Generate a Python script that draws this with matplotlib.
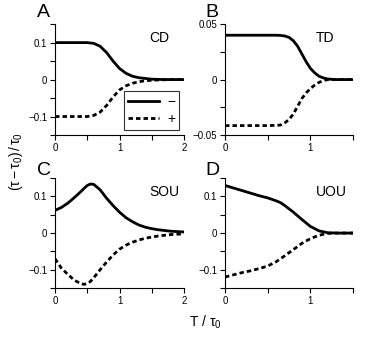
import matplotlib
matplotlib.use("Agg")
import matplotlib.pyplot as plt
from matplotlib.ticker import MultipleLocator

plt.rcParams.update({
    "font.family": ["Liberation Sans", "DejaVu Sans"],
    "mathtext.fontset": "custom",
    "mathtext.rm": "Liberation Sans",
    "mathtext.it": "Liberation Sans",
    "axes.spines.top": False,
    "axes.spines.right": False,
})

# CD
t_cd = [0, 0.1, 0.2, 0.3, 0.4, 0.5, 0.6, 0.7, 0.8, 0.9, 1.0, 1.1, 1.2, 1.3,
        1.4, 1.5, 1.6, 1.7, 1.8, 1.9, 2.0]
cd_minus = [0.1, 0.1, 0.1, 0.1, 0.1, 0.1, 0.098, 0.09, 0.073, 0.05, 0.03,
            0.017, 0.009, 0.005, 0.003, 0.001, 0.0005, 0, 0, 0, 0]
cd_plus = [-0.1, -0.1, -0.1, -0.1, -0.1, -0.1, -0.097, -0.088, -0.07, -0.047,
           -0.028, -0.017, -0.01, -0.006, -0.003, -0.002, -0.001, -0.0005, 0, 0, 0]

# TD
t_td = [0, 0.1, 0.2, 0.3, 0.4, 0.5, 0.6, 0.65, 0.7, 0.75, 0.8, 0.85, 0.9, 0.95,
        1.0, 1.05, 1.1, 1.15, 1.2, 1.3, 1.4, 1.5]
td_minus = [0.04, 0.04, 0.04, 0.04, 0.04, 0.04, 0.04, 0.0398, 0.0393, 0.038,
            0.035, 0.03, 0.023, 0.016, 0.010, 0.006, 0.003, 0.0015, 0.0005, 0, 0, 0]
td_plus = [-0.0415, -0.0415, -0.0415, -0.0415, -0.0415, -0.0415, -0.0413, -0.041,
           -0.039, -0.036, -0.031, -0.024, -0.017, -0.012, -0.008, -0.005, -0.0025,
           -0.001, 0, 0, 0, 0]

# SOU
t_sou = [0, 0.1, 0.2, 0.3, 0.4, 0.45, 0.5, 0.55, 0.6, 0.7, 0.8, 0.9, 1.0, 1.1,
         1.2, 1.3, 1.4, 1.5, 1.6, 1.7, 1.8, 1.9, 2.0]
sou_minus = [0.062, 0.07, 0.082, 0.097, 0.113, 0.122, 0.13, 0.134, 0.133, 0.118,
             0.095, 0.075, 0.057, 0.042, 0.031, 0.022, 0.016, 0.012, 0.009, 0.007,
             0.005, 0.004, 0.003]
sou_plus = [-0.07, -0.096, -0.113, -0.129, -0.138, -0.14, -0.138, -0.132, -0.122,
            -0.1, -0.079, -0.06, -0.044, -0.033, -0.025, -0.019, -0.014, -0.011,
            -0.008, -0.006, -0.004, -0.003, -0.002]

# UOU
t_uou = [0, 0.1, 0.2, 0.3, 0.4, 0.5, 0.6, 0.65, 0.7, 0.8, 0.9, 1.0, 1.1, 1.2,
         1.3, 1.4, 1.5]
uou_minus = [0.13, 0.123, 0.116, 0.109, 0.102, 0.096, 0.088, 0.083, 0.075, 0.057,
             0.037, 0.018, 0.006, 0.001, 0, 0, 0]
uou_plus = [-0.12, -0.114, -0.108, -0.103, -0.097, -0.09, -0.078, -0.07, -0.062,
            -0.045, -0.028, -0.015, -0.006, -0.001, 0, 0, 0]

panels = [
    ("A", "CD", t_cd, cd_minus, cd_plus, 2.0, 0.15, 0.05, [0, 1, 2], [-0.1, 0, 0.1], ["\u22120.1", "0", "0.1"], 1.62, 0.113),
    ("B", "TD", t_td, td_minus, td_plus, 1.5, 0.05, 0.025, [0, 1], [-0.05, 0, 0.05], ["\u22120.05", "0", "0.05"], 1.17, 0.0375),
    ("C", "SOU", t_sou, sou_minus, sou_plus, 2.0, 0.15, 0.05, [0, 1, 2], [-0.1, 0, 0.1], ["\u22120.1", "0", "0.1"], 1.7, 0.111),
    ("D", "UOU", t_uou, uou_minus, uou_plus, 1.5, 0.15, 0.05, [0, 1], [-0.1, 0, 0.1], ["\u22120.1", "0", "0.1"], 1.24, 0.111),
]

positions = [
    [0.1407, 0.5994, 0.330, 0.329],
    [0.5754, 0.5994, 0.328, 0.329],
    [0.1407, 0.1454, 0.330, 0.326],
    [0.5754, 0.1454, 0.328, 0.326],
]
# panel letter anchors (left, baseline) in figure fraction
letter_pos = [(0.094, 0.950), (0.524, 0.950), (0.094, 0.481), (0.524, 0.481)]

fig = plt.figure(figsize=(3.91, 3.37), dpi=100)

for pos, lp, (letter, name, t, ym, yp, xmax, ylim, ystep, xt, yt, ytl, tx, ty) in zip(positions, letter_pos, panels):
    ax = fig.add_axes(pos)
    ax.plot(t, ym, color="black", linewidth=2.0, label="\u2212")
    ax.plot(t, yp, color="black", linewidth=2.0, linestyle=(0, (1.6, 1.1)), label="+")
    ax.set_xlim(0, xmax)
    ax.set_ylim(-ylim, ylim)
    ax.xaxis.set_minor_locator(MultipleLocator(0.5))
    ax.yaxis.set_minor_locator(MultipleLocator(ystep))
    ax.set_xticks(xt)
    ax.set_yticks(yt)
    ax.set_yticklabels(ytl)
    ax.tick_params(which="both", direction="out", length=3.5, width=0.8, labelsize=7, pad=2)
    for s in ("left", "bottom"):
        ax.spines[s].set_linewidth(0.8)
    ax.text(tx, ty, name, fontsize=10, ha="center", va="center")
    fig.text(lp[0], lp[1], letter, fontsize=14, ha="left", va="baseline")
    if letter == "A":
        leg = ax.legend(loc="lower right", fontsize=10, frameon=True, fancybox=False,
                        handlelength=2.2, handletextpad=0.6, borderpad=0.3,
                        labelspacing=0.2, borderaxespad=0.35)
        leg.get_frame().set_edgecolor("black")
        leg.get_frame().set_linewidth(0.8)

fig.text(0.04, 0.52, r"$(\tau-\tau_0)\,/\,\tau_0$", rotation=90, fontsize=10, ha="center", va="center")
fig.text(0.525, 0.045, r"T / $\tau_0$", fontsize=10, ha="center", va="center")

fig.savefig("out.png", dpi=100)
